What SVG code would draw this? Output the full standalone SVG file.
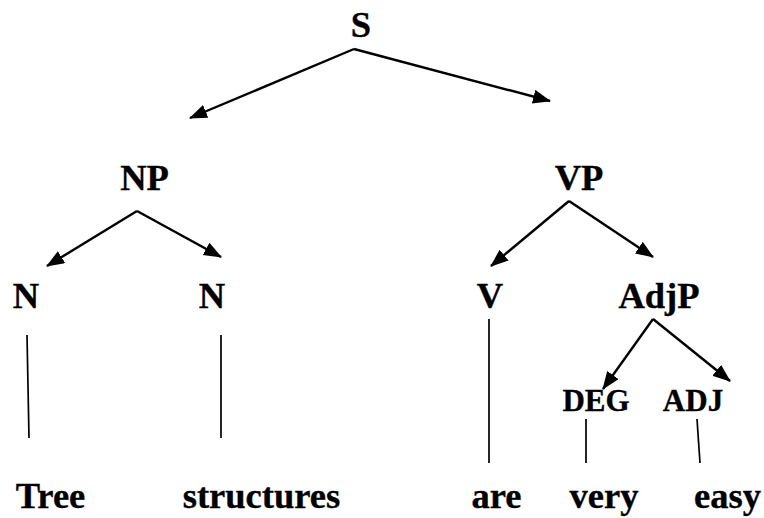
<svg xmlns="http://www.w3.org/2000/svg" width="764" height="518" viewBox="0 0 764 518">
  <style>
    .lbl { font-weight: bold; font-size: 36.5px; fill: #000; stroke: #000; stroke-width: 0.35; text-anchor: middle; }
    .sm { font-size: 31px; }
    .edge { stroke: #000; stroke-width: 2.4; fill: none; marker-end: url(#head); }
    .stem { stroke: #000; stroke-width: 1.7; fill: none; }
  </style>
  <defs>
    <marker id="head" markerUnits="userSpaceOnUse" markerWidth="20" markerHeight="16" refX="17" refY="7" orient="auto">
      <path d="M0,0 L18,7 L0,14 z" fill="#000"/>
    </marker>
  </defs>

  <rect width="764" height="518" fill="#fff"/>

  <g id="connectors">
    <!-- branches with arrowheads -->
    <line class="edge" x1="354" y1="49" x2="190" y2="118"/>
    <line class="edge" x1="354" y1="49" x2="550" y2="101"/>
    <line class="edge" x1="137" y1="211" x2="47" y2="266"/>
    <line class="edge" x1="137" y1="211" x2="221" y2="257"/>
    <line class="edge" x1="569" y1="201" x2="491" y2="266"/>
    <line class="edge" x1="569" y1="201" x2="653" y2="257"/>
    <line class="edge" x1="653" y1="319" x2="603" y2="389"/>
    <line class="edge" x1="653" y1="319" x2="730" y2="381"/>
    <!-- lexical stems -->
    <line class="stem" x1="27" y1="335" x2="29" y2="438"/>
    <line class="stem" x1="221" y1="335" x2="221" y2="438"/>
    <line class="stem" x1="489" y1="319" x2="489" y2="463"/>
    <line class="stem" x1="586" y1="419" x2="586" y2="463"/>
    <line class="stem" x1="697" y1="419" x2="700" y2="463"/>
  </g>

  <g font-family="Liberation Serif, Times New Roman, serif">
    <g id="S"><text class="lbl" x="361" y="37">S</text></g>
    <g id="NP"><text class="lbl" x="144.5" y="190">NP</text></g>
    <g id="VP"><text class="lbl" x="579" y="190">VP</text></g>
    <g id="N1"><text class="lbl" x="26" y="308">N</text></g>
    <g id="N2"><text class="lbl" x="212" y="308">N</text></g>
    <g id="V"><text class="lbl" x="490" y="308">V</text></g>
    <g id="AdjP"><text class="lbl" x="659" y="308">AdjP</text></g>
    <g id="DEG"><text class="lbl sm" x="596" y="411">DEG</text></g>
    <g id="ADJ"><text class="lbl sm" x="693" y="411">ADJ</text></g>
    <g id="w-tree"><text class="lbl" x="50.5" y="508">Tree</text></g>
    <g id="w-structures"><text class="lbl" x="261.5" y="508">structures</text></g>
    <g id="w-are"><text class="lbl" x="496.5" y="508">are</text></g>
    <g id="w-very"><text class="lbl" x="604" y="508">very</text></g>
    <g id="w-easy"><text class="lbl" x="727.5" y="508">easy</text></g>
  </g>
</svg>
